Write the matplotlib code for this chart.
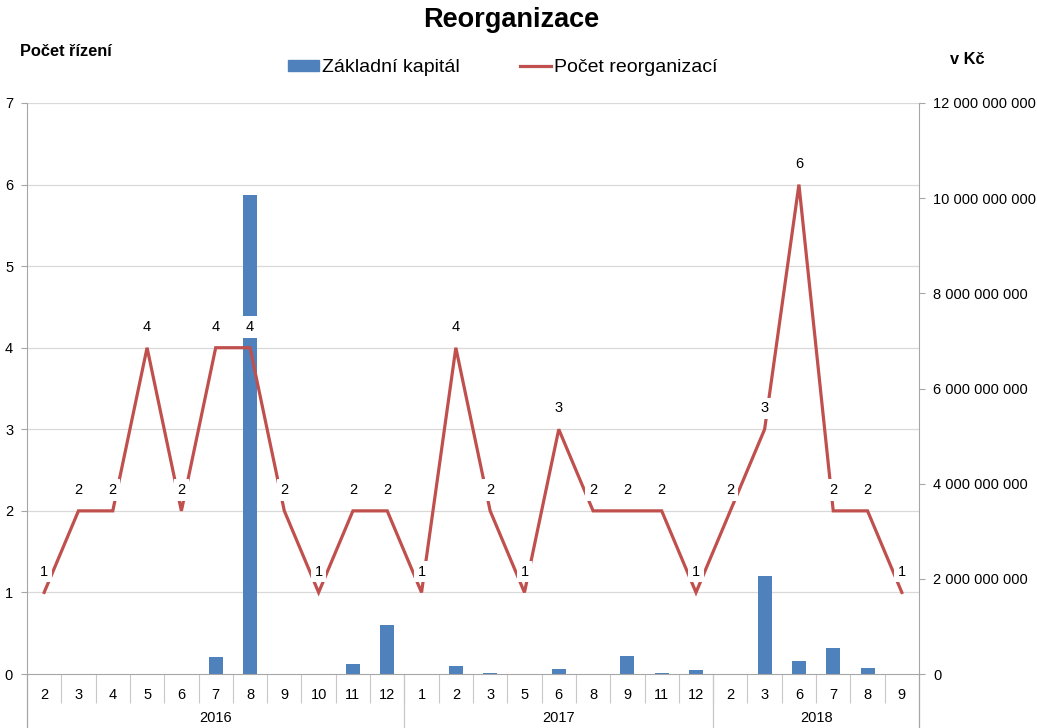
import numpy as np
import matplotlib.pyplot as plt
from matplotlib.ticker import FuncFormatter, FixedLocator
from matplotlib.patches import Patch
from matplotlib.lines import Line2D

plt.rcParams['font.family'] = ['Liberation Sans', 'DejaVu Sans']

# kategorie (mesic, rok)
roky = ['2016', '2017', '2018']
mesice_2016 = ['2', '3', '4', '5', '6', '7', '8', '9', '10', '11', '12']
mesice_2017 = ['1', '2', '3', '5', '6', '8', '9', '11', '12']
mesice_2018 = ['2', '3', '6', '7', '8', '9']
mesice = mesice_2016 + mesice_2017 + mesice_2018

# pocet reorganizaci (leva osa)
pocet = [1, 2, 2, 4, 2, 4, 4, 2, 1, 2, 2,
         1, 4, 2, 1, 3, 2, 2, 2, 1,
         2, 3, 6, 2, 2, 1]

# zakladni kapital v Kc (prava osa)
kapital = [0, 0, 0, 0, 0, 0.36e9, 10.06e9, 0, 0, 0.21e9, 1.03e9,
           0, 0.17e9, 0.03e9, 0, 0.10e9, 0, 0.38e9, 0.02e9, 0.08e9,
           0, 2.07e9, 0.28e9, 0.55e9, 0.13e9, 0]

cervena = '#c0504d'
modra = '#4f81bd'
seda = '#a6a6a6'

fig = plt.figure(figsize=(10.37, 7.28), dpi=100)
ax = fig.add_axes([27/1037, 1-674/728, 892/1037, 571/728])
axb = ax.twinx()
ax.set_zorder(2)
axb.set_zorder(1)
ax.patch.set_visible(False)

x = np.arange(len(mesice))

# sloupce
axb.bar(x, kapital, width=0.41, color=modra, zorder=3)
axb.set_ylim(0, 12e9)
axb.set_yticks(np.arange(0, 12e9 + 1, 2e9))
axb.yaxis.set_major_formatter(FuncFormatter(lambda v, p: f'{int(v):,}'.replace(',', ' ')))
# mrizka podle leve osy
for v in range(1, 8):
    axb.axhline(v * 12e9 / 7, color='#d9d9d9', lw=0.9, zorder=0)

# cara
ax.plot(x, pocet, color=cervena, lw=2.3, zorder=3, solid_joinstyle='miter')
for xi, yi in zip(x, pocet):
    ax.annotate(str(yi), (xi, yi), xytext=(0, 15), textcoords='offset points',
                ha='center', va='center', fontsize=10.5, zorder=5,
                bbox=dict(boxstyle='square,pad=0.25', fc='white', ec='none'))

ax.set_ylim(0, 7)
ax.set_xlim(-0.5, len(mesice) - 0.5)
ax.set_yticks(range(0, 8))

for a in (ax, axb):
    for s in a.spines.values():
        s.set_visible(False)
    a.tick_params(axis='y', labelsize=10.5, length=4, width=0.8, color=seda, pad=6)

ax.spines['bottom'].set_visible(True)
ax.spines['bottom'].set_color(seda)
ax.spines['left'].set_visible(True)
ax.spines['left'].set_color(seda)
ax.spines['left'].set_bounds(0, 7)
axb.spines['right'].set_visible(True)
axb.spines['right'].set_color(seda)

# osa x - mesice a roky
ax.set_xticks(x)
ax.set_xticklabels(mesice)
ax.tick_params(axis='x', length=0, labelsize=10.5, pad=10)
ax.xaxis.set_minor_locator(FixedLocator(np.arange(0.5, len(mesice) - 1, 1)))
ax.tick_params(axis='x', which='minor', length=21, width=0.8, color='#c8c8c8', direction='out')

tr = ax.get_xaxis_transform()
hranice = [-0.5, len(mesice_2016) - 0.5, len(mesice_2016) + len(mesice_2017) - 0.5, len(mesice) - 0.5]
for hx in hranice:
    ax.plot([hx, hx], [0, -54/571], transform=tr, color='#c8c8c8' if hx not in (hranice[0], hranice[-1]) else seda,
            lw=0.9, clip_on=False)
for i, r in enumerate(roky):
    ax.text((hranice[i] + hranice[i + 1]) / 2, -44/571, r, transform=tr,
            ha='center', va='center', fontsize=10.5)

fig.text(511/1037, 1 - 20/728, 'Reorganizace', ha='center', va='center', fontsize=19.5, fontweight='bold')
fig.text(20/1037, 1 - 52/728, 'Počet řízení', ha='left', va='center', fontsize=11.8, fontweight='bold')
fig.text(950/1037, 1 - 59/728, 'v Kč', ha='left', va='center', fontsize=11.8, fontweight='bold')

handles = [Patch(color=modra), Line2D([], [], color=cervena, lw=2.3)]
fig.legend(handles, ['Základní kapitál', 'Počet reorganizací'], loc='center', ncol=2,
           bbox_to_anchor=(503/1037, 1 - 68/728), frameon=False, fontsize=14,
           handlelength=1.6, handletextpad=0.15, columnspacing=3.1, handleheight=0.5)

fig.savefig('out.png', dpi=100)
